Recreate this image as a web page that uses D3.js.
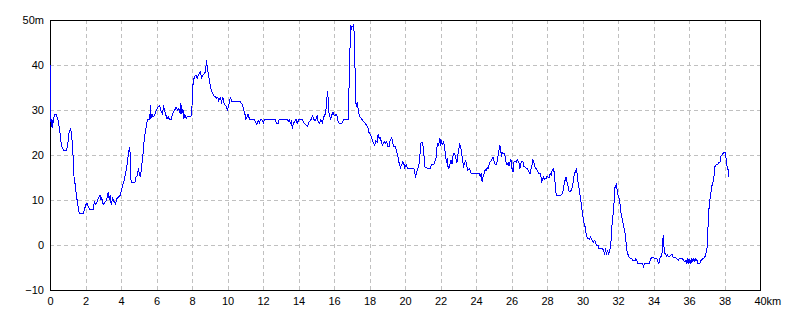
<!DOCTYPE html>
<html>
<head>
<meta charset="utf-8">
<script src="https://cdn.jsdelivr.net/npm/d3@7"></script>
<style>
  html, body { margin: 0; padding: 0; background: #fff; }
  svg { display: block; }
  .axis text { font-family: "Liberation Sans", Arial, sans-serif; font-size: 11px; fill: #000; }
</style>
</head>
<body>
<svg id="chart" width="800" height="320"></svg>
<script>
const distanceKm = [
0,0.02,0.05,0.08,0.11,0.17,0.25,0.32,0.41,0.49,0.54,0.60,0.67,0.75,0.90,0.97,1.05,1.14,1.20,1.25,1.33,1.38,1.44,1.51,1.57,1.63,1.85,1.91,1.98,2.06,2.13,2.21,2.41,2.47,2.54,2.62,2.69,2.79,2.84,2.88,2.97,3.07,3.16,3.25,3.31,3.36,3.42,3.50,3.59,3.66,3.74,3.85,3.93,4.00,4.07,4.15,4.22,4.30,4.37,4.45,4.50,4.54,4.60,4.75,4.82,4.90,4.95,5.01,5.07,5.12,5.20,5.25,5.31,5.38,5.46,5.59,5.63,5.66,5.72,5.78,5.87,5.96,6.06,6.15,
6.18,6.24,6.31,6.37,6.42,6.50,6.56,6.63,6.71,6.80,6.86,6.93,7.01,7.08,7.16,7.23,7.31,7.34,7.40,7.46,7.51,7.57,7.64,7.72,7.79,7.91,7.96,8.00,8.06,8.11,8.19,8.26,8.34,8.39,8.45,8.51,8.58,8.66,8.73,8.79,8.84,8.90,8.96,9.01,9.07,9.13,9.22,9.29,9.37,9.43,9.48,9.56,9.63,9.71,9.76,9.84,9.91,9.97,10.03,10.08,10.14,10.20,10.68,10.74,10.81,10.87,10.95,11.00,11.08,11.13,11.21,11.47,11.55,11.62,11.70,11.77,11.85,11.92,12.00,12.07,12.65,
12.73,12.82,12.88,13.35,13.40,13.46,13.51,13.57,13.63,13.68,13.76,13.83,13.89,13.94,14.00,14.19,14.26,14.34,14.41,14.49,14.54,14.62,14.69,14.77,14.82,14.90,14.97,15.03,15.08,15.16,15.23,15.31,15.36,15.44,15.50,15.55,15.61,15.64,15.68,15.74,15.79,15.85,15.91,15.96,16.02,16.09,16.15,16.21,16.28,16.37,16.45,16.50,16.77,16.80,16.86,16.92,16.95,16.99,17.05,17.08,17.12,17.16,17.20,17.23,17.27,17.31,17.35,17.40,17.48,17.55,17.63,17.70,17.78,17.83,17.89,17.94,18.02,
18.10,18.18,18.26,18.33,18.40,18.46,18.52,
18.58,18.64,18.71,18.77,18.82,18.90,18.93,18.99,19.08,19.14,19.21,19.27,19.31,19.42,19.48,19.55,19.61,19.66,19.72,19.78,19.85,19.91,19.96,20.04,20.11,20.45,20.50,20.56,20.62,20.67,20.73,20.79,20.82,20.86,20.92,20.97,21.01,21.07,21.10,21.38,21.46,21.53,21.61,21.68,21.74,21.79,21.85,21.91,21.94,21.98,22.04,22.07,22.13,22.19,22.24,22.30,22.36,22.39,22.45,22.50,22.56,22.62,22.67,22.73,22.79,22.84,22.90,22.95,23.01,23.05,23.10,23.16,23.21,23.27,23.33,23.38,23.44,23.51,23.59,23.64,23.70,23.78,24.15,24.21,24.26,24.32,24.37,24.43,24.49,24.54,24.60,24.65,24.71,24.77,24.82,24.88,24.93,24.99,25.05,25.12,25.18,
25.25,25.31,25.35,25.40,25.44,25.50,25.55,25.61,25.66,25.72,25.78,25.83,25.89,25.94,26.00,26.06,26.11,26.17,26.24,26.30,26.36,26.41,26.45,26.50,26.56,26.62,26.67,26.73,26.80,26.86,26.92,26.97,27.03,27.08,27.14,27.18,27.23,27.29,27.35,27.40,27.46,27.51,27.57,27.63,27.66,27.72,27.76,27.81,27.87,27.93,27.98,28.04,28.09,28.15,28.21,28.26,28.32,28.37,28.41,28.45,28.49,28.77,28.82,28.88,28.93,28.99,29.05,29.10,29.16,29.21,29.29,29.35,29.40,29.46,29.51,29.57,29.63,29.66,29.72,29.78,29.83,29.89,29.94,30.00,30.06,30.11,30.17,30.22,30.28,30.36,30.41,30.47,30.52,30.58,30.64,30.69,30.73,30.79,30.84,30.90,31.07,31.16,31.21,31.27,31.33,31.38,31.44,31.50,
31.57,31.61,31.66,31.72,31.76,31.79,31.83,31.87,31.91,31.94,32.00,32.06,32.11,32.17,32.23,32.28,32.34,32.39,32.43,32.47,32.52,32.58,32.64,32.70,32.75,32.81,32.86,32.92,32.98,33.03,33.09,33.18,33.28,33.35,33.41,33.47,33.52,33.75,33.80,33.86,33.97,34.09,34.16,34.22,34.27,34.33,34.39,34.44,34.48,34.52,34.56,34.59,34.65,34.71,34.76,34.82,34.89,34.95,35.01,35.06,35.14,35.21,35.29,35.36,35.44,35.59,35.67,35.74,35.80,35.85,35.91,35.97,36.02,36.08,36.14,36.19,36.25,36.30,36.36,36.42,36.47,36.53,36.59,36.64,36.70,36.76,36.81,36.87,36.92,36.98,37.02,37.06,37.09,37.15,37.21,37.26,37.32,37.38,37.43,37.49,37.55,37.60,37.66,37.71,37.77,37.83,37.88,37.94,38.00,38.05,38.09,38.12,38.17,38.20
];
const elevationM = [
40,28.0,26.4,28.2,26.2,28.2,29.1,29.1,28.2,26.4,24.9,22.7,21.6,21.2,21.2,22.3,25.3,26.0,24.1,21.6,14.9,13.8,11.9,9.7,8.2,7.1,7.1,7.9,9.0,9.3,8.6,8.1,8.1,9.7,9.2,9.7,10.4,11.2,10.1,10.8,9.0,9.7,10.1,11.9,10.1,11.2,9.0,10.4,9.7,9.2,10.4,10.8,11.2,12.3,13.4,14.5,16.0,17.5,19.7,21.9,20.1,14.1,13.9,13.9,15.2,15.6,17.1,16.0,15.2,17.1,19.7,22.3,24.5,26.0,28.0,28.0,31.2,28.2,29.3,28.6,29.0,30.1,30.8,31.2,
30.7,29.7,29.2,31.2,30.1,29.0,28.1,28.6,28.0,28.0,29.0,29.7,30.2,30.7,30.1,30.4,29.3,31.6,29.3,30.4,28.1,29.0,28.2,28.7,28.6,28.7,29.3,34.9,36.7,37.5,37.9,37.1,37.9,38.4,38.6,37.1,37.9,38.1,38.6,41.2,39.3,37.9,36.4,35.3,34.4,33.8,33.2,33.0,32.7,33.0,32.1,32.9,31.9,33.0,31.7,31.2,30.8,30.2,30.8,31.9,33.0,32.1,32.1,31.6,31.4,30.2,29.3,28.1,28.6,29.2,28.1,28.1,27.5,27.0,27.7,27.3,28.0,27.9,27.3,28.0,28.0,
27.1,27.1,28.0,28.0,27.5,27.9,27.1,27.6,26.0,27.1,27.6,28.1,27.1,27.5,28.0,28.0,27.3,27.0,26.7,26.5,27.3,27.6,28.1,28.8,28.2,27.6,28.2,29.0,27.5,27.1,27.9,27.3,28.1,29.0,29.3,31.8,34.4,32.7,29.7,28.6,28.1,29.0,29.6,29.1,28.8,29.1,28.7,27.5,27.1,27.0,27.3,28.0,28.0,31.9,42.3,49.1,48.2,48.6,48.8,49.1,46.0,38.6,31.9,30.8,31.8,30.8,30.1,28.7,28.4,28.0,27.6,27.3,26.9,26.6,26.0,25.1,24.7,
23.8,22.8,22.3,23.3,23.0,24.8,23.8,
24.0,23.0,22.3,22.8,23.0,22.7,23.3,22.1,22.1,23.4,23.9,23.4,22.1,22.1,21.2,20.1,19.0,17.9,17.3,17.9,18.6,18.1,17.3,17.9,17.1,17.1,16.9,15.1,16.0,16.9,17.5,18.6,20.4,22.7,23.0,23.0,20.8,19.0,17.3,17.1,17.9,18.1,18.1,19.0,19.7,22.7,22.3,23.0,23.9,22.1,23.4,22.3,23.0,22.3,20.4,18.6,19.1,17.6,17.1,17.9,19.0,18.2,19.7,20.6,20.1,19.3,18.4,20.1,21.6,22.7,21.9,20.8,19.0,17.6,18.2,19.0,17.9,16.7,17.1,16.7,15.9,16.0,16.0,15.3,16.0,14.1,15.4,16.0,16.9,16.6,17.3,17.1,17.9,18.6,18.8,19.3,19.7,18.8,18.1,18.1,19.0,
20.8,22.3,21.8,19.7,20.8,20.4,20.6,19.9,18.6,17.9,18.4,17.6,18.6,19.1,17.1,16.4,18.6,18.8,18.4,19.1,18.6,18.2,17.1,18.2,18.8,18.6,17.6,17.5,17.1,17.1,16.7,16.1,16.1,17.1,18.2,19.1,18.6,17.5,17.1,16.9,16.4,16.0,16.1,15.3,14.1,14.5,15.3,14.7,14.9,14.9,15.4,15.1,15.1,16.0,15.6,16.6,17.1,16.4,14.9,12.7,11.2,11.2,11.4,12.1,13.4,14.5,15.3,14.1,13.2,12.1,12.1,12.3,13.0,14.5,15.9,16.4,17.1,16.1,14.1,12.7,11.2,9.7,8.0,6.4,5.0,4.3,2.7,1.9,1.6,1.3,1.9,1.6,1.0,0.8,1.2,1.0,0.3,-0.1,0.1,-0.7,-0.7,-1.0,-1.8,-1.0,-1.8,-1.2,-1.8,-1.4,
0.4,3.4,5.6,7.9,10.1,12.7,13.2,13.6,12.7,11.9,10.8,10.1,8.2,6.4,5.6,4.5,3.4,2.3,0.4,-1.0,-1.8,-2.5,-2.7,-2.9,-2.9,-3.4,-3.3,-3.4,-2.9,-3.3,-3.9,-3.9,-4.0,-4.1,-4.7,-4.1,-4.0,-4.0,-3.1,-2.7,-2.7,-2.9,-2.9,-3.6,-4.0,-2.9,-2.5,-2.5,0.1,2.3,-0.1,-1.8,-1.9,-2.4,-2.1,-2.5,-2.4,-2.1,-1.9,-2.5,-2.7,-2.7,-2.9,-3.3,-2.9,-2.9,-3.3,-3.6,-3.3,-4.0,-2.9,-4.0,-3.1,-4.0,-2.9,-3.6,-2.9,-3.6,-2.9,-3.3,-4.0,-4.1,-3.9,-3.4,-3.1,-2.9,-2.9,-2.5,-1.8,-1.0,1.9,5.6,7.9,10.1,11.9,13.2,14.1,15.3,17.5,17.9,18.1,18.1,18.6,18.4,19.9,20.1,20.4,20.6,20.8,19.7,18.6,17.5,16.9,15.3
];
const xTicks = [0,2,4,6,8,10,12,14,16,18,20,22,24,26,28,30,32,34,36,38,40];
const yTicks = [-10,0,10,20,30,40,50];
const xGrid = [2,4,6,8,10,12,14,16,18,20,22,24,26,28,30,32,34,36,38];
const yGrid = [0,10,20,30,40];

const svg = d3.select("#chart");
const x = d3.scaleLinear().domain([0, 40]).range([50, 760]);
const y = d3.scaleLinear().domain([-10, 50]).range([290, 20]);
const px = v => Math.round(v) + 0.5;

const grid = svg.append("g").attr("stroke", "#c0c0c0").attr("stroke-dasharray", "4,3").attr("shape-rendering", "crispEdges");
grid.selectAll("line.v").data(xGrid).join("line").attr("class", "v")
  .attr("x1", d => px(x(d))).attr("x2", d => px(x(d)))
  .attr("y1", y(50)).attr("y2", y(-10));
grid.selectAll("line.h").data(yGrid).join("line").attr("class", "h")
  .attr("x1", x(0)).attr("x2", x(40))
  .attr("y1", d => px(y(d))).attr("y2", d => px(y(d)));

svg.append("rect")
  .attr("x", px(x(0))).attr("y", px(y(50)))
  .attr("width", x(40) - x(0)).attr("height", y(-10) - y(50))
  .attr("fill", "none").attr("stroke", "#000").attr("shape-rendering", "crispEdges");

svg.append("clipPath").attr("id", "clip").append("rect")
  .attr("x", x(0)).attr("y", y(50)).attr("width", x(40) - x(0) + 1).attr("height", y(-10) - y(50) + 1);

const pts = distanceKm.map((d, i) => [d, elevationM[i]]);
const line = d3.line().x(d => x(d[0]) + 0.5).y(d => y(d[1]) + 0.5);
svg.append("path").datum(pts)
  .attr("clip-path", "url(#clip)")
  .attr("fill", "none").attr("stroke", "#0000ff").attr("stroke-width", 1)
  .attr("stroke-linejoin", "miter")
  .attr("shape-rendering", "crispEdges")
  .attr("d", line);

const fmt = d3.format("");
const xAxis = svg.append("g").attr("class", "axis").attr("transform", `translate(0,${y(-10)})`)
  .call(d3.axisBottom(x).tickValues(xTicks).tickSize(0).tickPadding(7).tickFormat(d => fmt(d)));
xAxis.select(".domain").remove();
xAxis.selectAll(".tick").filter(d => d === 40).select("text").each(function() {
  const t = d3.select(this);
  const w = this.getComputedTextLength();
  t.attr("text-anchor", "start").attr("x", -w / 2).text("40km");
});

const yAxis = svg.append("g").attr("class", "axis").attr("transform", `translate(${x(0)},0)`)
  .call(d3.axisLeft(y).tickValues(yTicks).tickSize(0).tickPadding(6).tickFormat(d => d === 50 ? "50m" : fmt(d)));
yAxis.select(".domain").remove();
</script>
</body>
</html>
